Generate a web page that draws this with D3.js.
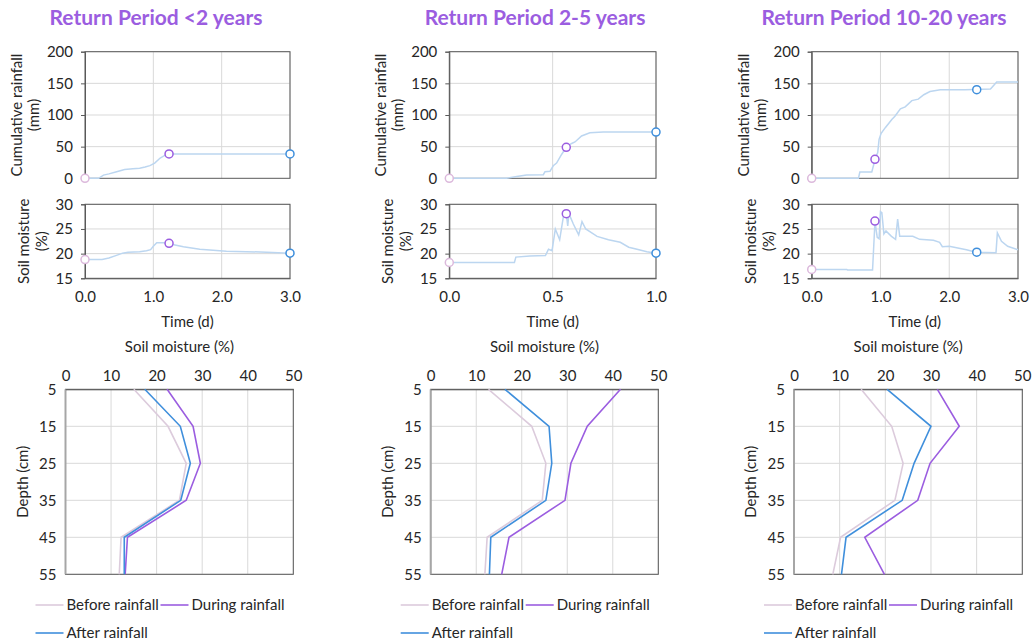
<!DOCTYPE html>
<html><head><meta charset="utf-8">
<script src="https://cdn.jsdelivr.net/npm/d3@7"></script>
<style>
body{margin:0;background:#fff;}
text{font-family:Lato,"Liberation Sans",sans-serif;fill:#262626;}
</style></head>
<body><svg id="c" width="1035" height="642"></svg>
<script>
// ---------- DATA ----------
const titles = ["Return Period <2 years","Return Period 2-5 years","Return Period 10-20 years"];
const timeMax = [3, 1, 3];
const timeTicks = [[0,1,2,3],[0,0.5,1],[0,1,2,3]];
const rainTicks = [0,50,100,150,200];
const smTicks = [15,20,25,30];
const depthTicks = [5,15,25,35,45,55];
const profTicks = [0,10,20,30,40,50];
const seriesNames = ["Before rainfall","During rainfall","After rainfall"];

// panel 1 (<2 years)
const p1RainT = [0,0.2,0.27,0.35,0.45,0.58,0.7,0.8,0.88,0.95,1.02,1.1,1.18,1.23,3.0];
const p1Rain  = [0,0,5,7,10,14,15,16,18,20,24,32,37,38.5,38.5];
const p1SmT = [0,0.25,0.35,0.45,0.55,0.63,0.8,0.9,0.96,1.0,1.05,1.15,1.23,1.3,1.44,1.68,2.07,2.66,3.0];
const p1Sm  = [18.8,18.8,19.1,19.6,20.1,20.3,20.4,20.6,20.8,21.5,22.2,22.2,22.0,21.8,21.4,20.9,20.5,20.3,20.1];
const p1MarkT = [0,1.23,3.0];
const p1MarkRain = [0,38.5,38.5];
const p1MarkSm = [18.8,22.1,20.1];
const p1Before = [15.0,22.5,26.5,25.0,12.2,11.8];
const p1During = [22.3,28.0,29.6,26.5,13.6,13.1];
const p1After  = [17.4,25.2,27.4,25.3,12.9,12.9];

// panel 2 (2-5 years)
const p2RainT = [0,0.277,0.326,0.374,0.455,0.463,0.487,0.503,0.519,0.544,0.568,0.592,0.608,0.64,0.68,0.745,1.0];
const p2Rain  = [0,0,3,5.2,5.7,10.4,11,19.8,24,38,50,55,57.4,66.8,72,73,73];
const p2SmT = [0,0.315,0.322,0.39,0.465,0.48,0.497,0.513,0.534,0.553,0.566,0.573,0.578,0.585,0.6,0.626,0.642,0.66,0.715,0.77,0.827,0.868,0.908,0.956,1.0];
const p2Sm  = [18.2,18.2,19.3,19.5,19.6,20.9,20.6,25.0,22.8,27.8,28.1,25.6,27.9,27.5,26,23.8,26.5,25,23.5,22.8,22.3,21.3,20.9,20.4,20.1];
const p2MarkT = [0,0.566,1.0];
const p2MarkRain = [0,49,73];
const p2MarkSm = [18.2,28.1,20.1];
const p2Before = [12.7,22.2,25.3,24.5,12.4,11.9];
const p2During = [41.7,34.4,30.8,29.5,17.2,15.6];
const p2After  = [16.3,26.0,26.6,25.3,13.2,12.9];

// panel 3 (10-20 years)
const p3RainT = [0,0.68,0.70,0.874,0.922,0.96,0.98,1.01,1.07,1.165,1.21,1.29,1.36,1.456,1.55,1.63,1.72,1.87,2.23,2.6,2.69,3.0];
const p3Rain  = [0,0,10,10,30,40.7,61.6,71,80,93,98,109.7,112.8,122.7,125,132,137,140,140,141,152,152];
const p3SmT = [0,0.51,0.52,0.885,0.92,0.953,0.98,1.0,1.02,1.05,1.08,1.16,1.22,1.25,1.28,1.47,1.57,1.77,1.86,1.9,2.0,2.25,2.39,2.68,2.7,2.76,2.85,3.0];
const p3Sm  = [16.8,16.8,16.7,16.7,26.5,23.3,23.0,28.5,28.3,24.0,24.6,23.5,22.9,27.0,23.5,23.5,22.9,22.7,22.3,21.4,21.5,20.8,20.3,20.2,24.2,22.5,21.5,20.8];
const p3MarkT = [0,0.92,2.4];
const p3MarkRain = [0,30,140];
const p3MarkSm = [16.8,26.6,20.3];
const p3Before = [14.7,21.4,23.9,22.1,10.2,8.5];
const p3During = [31.4,36.2,29.8,27.1,15.5,19.8];
const p3After  = [20.4,30.0,26.3,23.7,11.4,10.4];

const panels = [
  {rainT:p1RainT, rain:p1Rain, smT:p1SmT, sm:p1Sm, mT:p1MarkT, mR:p1MarkRain, mS:p1MarkSm, prof:[p1Before,p1During,p1After]},
  {rainT:p2RainT, rain:p2Rain, smT:p2SmT, sm:p2Sm, mT:p2MarkT, mR:p2MarkRain, mS:p2MarkSm, prof:[p2Before,p2During,p2After]},
  {rainT:p3RainT, rain:p3Rain, smT:p3SmT, sm:p3Sm, mT:p3MarkT, mR:p3MarkRain, mS:p3MarkSm, prof:[p3Before,p3During,p3After]}
];

// ---------- LAYOUT / STYLE ----------
const layout = [
  {x0:85,   x1:290,  px0:65.5, px1:293.3, tx:156},
  {x0:449.3,x1:656,  px0:430.7,px1:658.3, tx:535},
  {x0:811.7,x1:1018, px0:794,  px1:1022.3,tx:884}
];
const rainY = [178.3, 51.7], smY = [278.3, 204.3], profY = [389.3, 574.3];
const colSeries = ["#dccbdc","#9b5de0","#3f8fdc"];
const colMark = ["#dcb9dc","#9b5de0","#3f8fdc"];
const colLine = "#bcd6f0";
const grid = "#d9d9d9", axisCol = "#595959";
const fs = 14;

const svg = d3.select("#c");

function box(g, x0, x1, y0, y1){
  g.append("rect").attr("x",x0).attr("y",Math.min(y0,y1)).attr("width",x1-x0).attr("height",Math.abs(y1-y0))
   .attr("fill","none").attr("stroke",axisCol).attr("stroke-width",1);
}

panels.forEach((p,i)=>{
  const L = layout[i];
  const g = svg.append("g");
  // title
  g.append("text").attr("x",L.tx).attr("y",25).attr("text-anchor","middle")
   .attr("font-size",21).attr("font-weight",700).style("fill","#9b5de0").text(titles[i]);

  const xT = d3.scaleLinear().domain([0,timeMax[i]]).range([L.x0,L.x1]);
  const yR = d3.scaleLinear().domain([0,200]).range(rainY);
  const yS = d3.scaleLinear().domain([15,30]).range(smY);

  // ---- rainfall chart ----
  const gr = g.append("g");
  gr.append("g").selectAll("line").data(rainTicks.slice(1)).join("line")
    .attr("x1",L.x0).attr("x2",L.x1).attr("y1",d=>yR(d)).attr("y2",d=>yR(d)).attr("stroke",grid);
  gr.append("g").selectAll("line").data(timeTicks[i].slice(1)).join("line")
    .attr("y1",rainY[0]).attr("y2",rainY[1]).attr("x1",d=>xT(d)).attr("x2",d=>xT(d)).attr("stroke",grid);
  box(gr, L.x0, L.x1, rainY[0], rainY[1]);
  const axR = gr.append("g").attr("transform",`translate(${L.x0},0)`)
    .call(d3.axisLeft(yR).tickValues(rainTicks).tickSize(4).tickPadding(8));
  axR.select(".domain").attr("stroke",axisCol);
  axR.selectAll(".tick line").attr("stroke",axisCol);
  axR.selectAll("text").attr("font-size",fs+1).attr("font-family","Lato").style("fill","#262626");
  gr.append("path").datum(p.rainT.map((t,k)=>[t,p.rain[k]]))
    .attr("d",d3.line().x(d=>xT(d[0])).y(d=>yR(d[1]))).attr("fill","none").attr("stroke",colLine).attr("stroke-width",1.5);
  gr.append("g").selectAll("circle").data(p.mT.map((t,k)=>[t,p.mR[k],k])).join("circle")
    .attr("cx",d=>xT(d[0])).attr("cy",d=>yR(d[1])).attr("r",4).attr("fill","#fff")
    .attr("stroke",d=>colMark[d[2]]).attr("stroke-width",1.5);
  const ty = g.append("text").attr("transform",`translate(${L.x0-63},${(rainY[0]+rainY[1])/2}) rotate(-90)`)
    .attr("text-anchor","middle").attr("font-size",fs+1);
  ty.append("tspan").attr("x",0).attr("y",0).text("Cumulative rainfall");
  ty.append("tspan").attr("x",0).attr("y",17).text("(mm)");

  // ---- soil moisture chart ----
  const gs = g.append("g");
  gs.append("g").selectAll("line").data(smTicks.slice(1)).join("line")
    .attr("x1",L.x0).attr("x2",L.x1).attr("y1",d=>yS(d)).attr("y2",d=>yS(d)).attr("stroke",grid);
  gs.append("g").selectAll("line").data(timeTicks[i].slice(1)).join("line")
    .attr("y1",smY[0]).attr("y2",smY[1]).attr("x1",d=>xT(d)).attr("x2",d=>xT(d)).attr("stroke",grid);
  box(gs, L.x0, L.x1, smY[0], smY[1]);
  const axS = gs.append("g").attr("transform",`translate(${L.x0},0)`)
    .call(d3.axisLeft(yS).tickValues(smTicks).tickSize(4).tickPadding(8));
  axS.select(".domain").attr("stroke",axisCol);
  axS.selectAll(".tick line").attr("stroke",axisCol);
  axS.selectAll("text").attr("font-size",fs+1).attr("font-family","Lato").style("fill","#262626");
  const axT = gs.append("g").attr("transform",`translate(0,${smY[0]})`)
    .call(d3.axisBottom(xT).tickValues(timeTicks[i]).tickFormat(d3.format(".1f")).tickSize(0).tickPadding(13));
  axT.select(".domain").attr("stroke",axisCol);
  axT.selectAll("text").attr("font-size",fs+1).attr("font-family","Lato").style("fill","#262626");
  gs.append("path").datum(p.smT.map((t,k)=>[t,p.sm[k]]))
    .attr("d",d3.line().x(d=>xT(d[0])).y(d=>yS(d[1]))).attr("fill","none").attr("stroke",colLine).attr("stroke-width",1.5);
  gs.append("g").selectAll("circle").data(p.mT.map((t,k)=>[t,p.mS[k],k])).join("circle")
    .attr("cx",d=>xT(d[0])).attr("cy",d=>yS(d[1])).attr("r",4).attr("fill","#fff")
    .attr("stroke",d=>colMark[d[2]]).attr("stroke-width",1.5);
  const ts = g.append("text").attr("transform",`translate(${L.x0-56},${(smY[0]+smY[1])/2}) rotate(-90)`)
    .attr("text-anchor","middle").attr("font-size",fs+1);
  ts.append("tspan").attr("x",0).attr("y",0).text("Soil moisture");
  ts.append("tspan").attr("x",0).attr("y",18).text("(%)");
  g.append("text").attr("x",(L.x0+L.x1)/2).attr("y",327).attr("text-anchor","middle").attr("font-size",fs+1).text("Time (d)");

  // ---- profile chart ----
  const xP = d3.scaleLinear().domain([0,50]).range([L.px0,L.px1]);
  const yP = d3.scaleLinear().domain([5,55]).range(profY);
  const gp = g.append("g");
  gp.append("g").selectAll("line").data(profTicks.slice(1)).join("line")
    .attr("y1",profY[0]).attr("y2",profY[1]).attr("x1",d=>xP(d)).attr("x2",d=>xP(d)).attr("stroke",grid);
  gp.append("g").selectAll("line").data(depthTicks.slice(1)).join("line")
    .attr("x1",L.px0).attr("x2",L.px1).attr("y1",d=>yP(d)).attr("y2",d=>yP(d)).attr("stroke",grid);
  box(gp, L.px0, L.px1, profY[0], profY[1]);
  gp.append("line").attr("x1",L.px0).attr("x2",L.px0).attr("y1",profY[0]).attr("y2",profY[1])
    .attr("stroke","#a6a6a6").attr("stroke-width",2);
  const axP = gp.append("g").attr("transform",`translate(0,${profY[0]})`)
    .call(d3.axisTop(xP).tickValues(profTicks).tickSize(0).tickPadding(8));
  axP.select(".domain").attr("stroke",axisCol);
  axP.selectAll("text").attr("font-size",fs+1).attr("font-family","Lato").style("fill","#262626");
  const axD = gp.append("g").attr("transform",`translate(${L.px0},0)`)
    .call(d3.axisLeft(yP).tickValues(depthTicks).tickSize(0).tickPadding(9));
  axD.select(".domain").remove();
  axD.selectAll("text").attr("font-size",fs+1).attr("font-family","Lato").style("fill","#262626");
  p.prof.forEach((vals,s)=>{
    gp.append("path").datum(vals.map((v,k)=>[v,depthTicks[k]]))
      .attr("d",d3.line().x(d=>xP(d[0])).y(d=>yP(d[1]))).attr("fill","none")
      .attr("stroke",colSeries[s]).attr("stroke-width",1.6);
  });
  g.append("text").attr("x",(L.px0+L.px1)/2).attr("y",352).attr("text-anchor","middle").attr("font-size",fs+1).text("Soil moisture (%)");
  g.append("text").attr("transform",`translate(${L.px0-38},${(profY[0]+profY[1])/2}) rotate(-90)`)
    .attr("text-anchor","middle").attr("font-size",fs+1).text("Depth (cm)");

  // legend
  const legPos = [[L.px0-30,605],[L.px0+95,605],[L.px0-30,633]];
  seriesNames.forEach((nm,s)=>{
    const [lx,ly] = legPos[s];
    g.append("line").attr("x1",lx).attr("x2",lx+28).attr("y1",ly).attr("y2",ly).attr("stroke",colSeries[s]).attr("stroke-width",1.6);
    g.append("text").attr("x",lx+31).attr("y",ly+5).attr("font-size",fs+1).text(nm);
  });
});
</script></body></html>
